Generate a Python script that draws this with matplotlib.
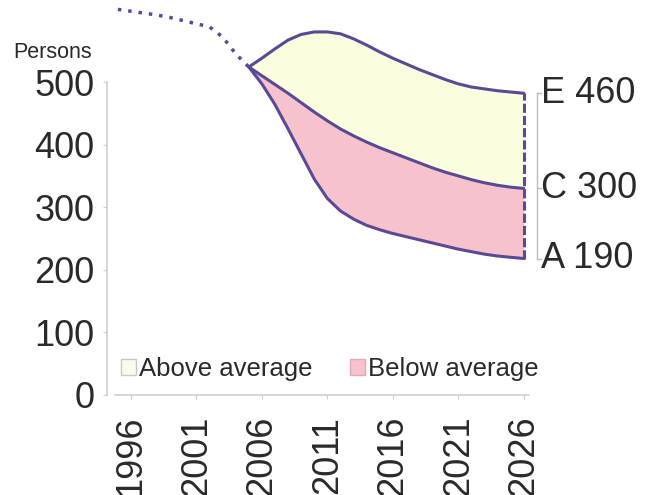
import matplotlib
matplotlib.use("Agg")
import matplotlib.pyplot as plt
from matplotlib.patches import Patch

plt.rcParams['font.family'] = ['Liberation Sans', 'DejaVu Sans']

# ---- data ----
hist_years = [1995, 1996, 1997, 1998, 1999, 2000, 2001, 2002, 2003, 2004, 2005]
hist_values = [616, 613, 610, 607, 603, 598, 593, 588, 572, 545, 524]

proj_years = list(range(2005, 2027))
scen_E = [524, 538, 553, 567, 576, 580, 580, 577, 569, 559, 548, 538, 529, 520, 512, 504, 497, 492, 489, 486, 484, 482]
scen_C = [524, 510, 496, 482, 467, 452, 438, 425, 414, 404, 395, 387, 379, 371, 363, 356, 350, 344, 339, 335, 332, 330]
scen_A = [524, 497, 464, 425, 385, 345, 314, 294, 281, 271, 264, 258, 253, 248, 243, 238, 233, 229, 225, 222, 220, 218]

scenario_names = ['E', 'C', 'A']
scenario_labels = [460, 300, 190]

x_ticks = [1996, 2001, 2006, 2011, 2016, 2021, 2026]
y_ticks = [0, 100, 200, 300, 400, 500]
legend_labels = ['Above average', 'Below average']

# ---- style ----
line_col = '#5a4a96'
above_col = '#fcfcdf'
below_col = '#f6c2ce'
text_col = '#2a2a2a'
axis_col = '#d0d0d0'

W, H = 647, 495
fig = plt.figure(figsize=(W / 100, H / 100), dpi=100)
ax = fig.add_axes([107 / W, 1 - 395 / H, (529 - 107) / W, 395 / H])

ax.fill_between(proj_years, scen_C, scen_E, color=above_col, lw=0)
ax.fill_between(proj_years, scen_A, scen_C, color=below_col, lw=0)
for s in (scen_E, scen_C, scen_A):
    ax.plot(proj_years, s, color=line_col, lw=2.2, solid_capstyle='round',
            solid_joinstyle='round')
ax.plot([proj_years[-1], proj_years[-1]], [scen_A[-1], scen_E[-1]],
        color=line_col, lw=2.2, ls=(0, (3, 1)))
ax.plot(hist_years, hist_values, color=line_col, lw=2.5, ls=(0, (1, 2.0)))

ax.set_xlim(1994.17, 2026.4)
ax.set_ylim(0, 631)
ax.set_xticks(x_ticks)
ax.set_xticklabels([str(t) for t in x_ticks], rotation=90)
ax.set_yticks(y_ticks)
ax.tick_params(axis='both', colors=axis_col, length=3, labelsize=26, labelcolor=text_col)
ax.tick_params(axis='y', pad=6)
ax.tick_params(axis='x', pad=12)

for sp in ('top', 'right'):
    ax.spines[sp].set_visible(False)
for sp in ('left', 'bottom'):
    ax.spines[sp].set_color(axis_col)
    ax.spines[sp].set_linewidth(1.2)
ax.spines['left'].set_bounds(0, 500)
ax.spines['bottom'].set_bounds(1994.8, 2026.4)

# right-hand labels with bracket
ends = [scen_E[-1], scen_C[-1], scen_A[-1]]
bx = proj_years[-1] + 1.0
ax.plot([bx, bx], [ends[-1], ends[0]], color='#b8b8e0', lw=1.0, clip_on=False)
for name, val, yv in zip(scenario_names, scenario_labels, ends):
    ax.plot([bx, bx + 0.3], [yv, yv], color='#b8b8e0', lw=1.0, clip_on=False)
    ax.text(bx + 0.3, yv, f"{name} {val}", fontsize=26, color=text_col,
            va='center', ha='left', clip_on=False)

fig.text(53 / W, 1 - 52 / H, 'Persons', fontsize=15.5, color=text_col,
         ha='center', va='center')

handles = [Patch(facecolor='#fbfbec', edgecolor='#c8c8c8', lw=1.0),
           Patch(facecolor=below_col, edgecolor='#e8a8b8', lw=1.0)]
leg = fig.legend(handles, legend_labels, loc='center left',
                 bbox_to_anchor=(121 / W, 1 - 369 / H), ncol=2, frameon=False,
                 fontsize=18.5, handlelength=0.6, handleheight=0.6,
                 handletextpad=0.1, columnspacing=1.45, borderaxespad=0,
                 borderpad=0)
for t in leg.get_texts():
    t.set_color(text_col)

fig.savefig('out.png', dpi=100)
